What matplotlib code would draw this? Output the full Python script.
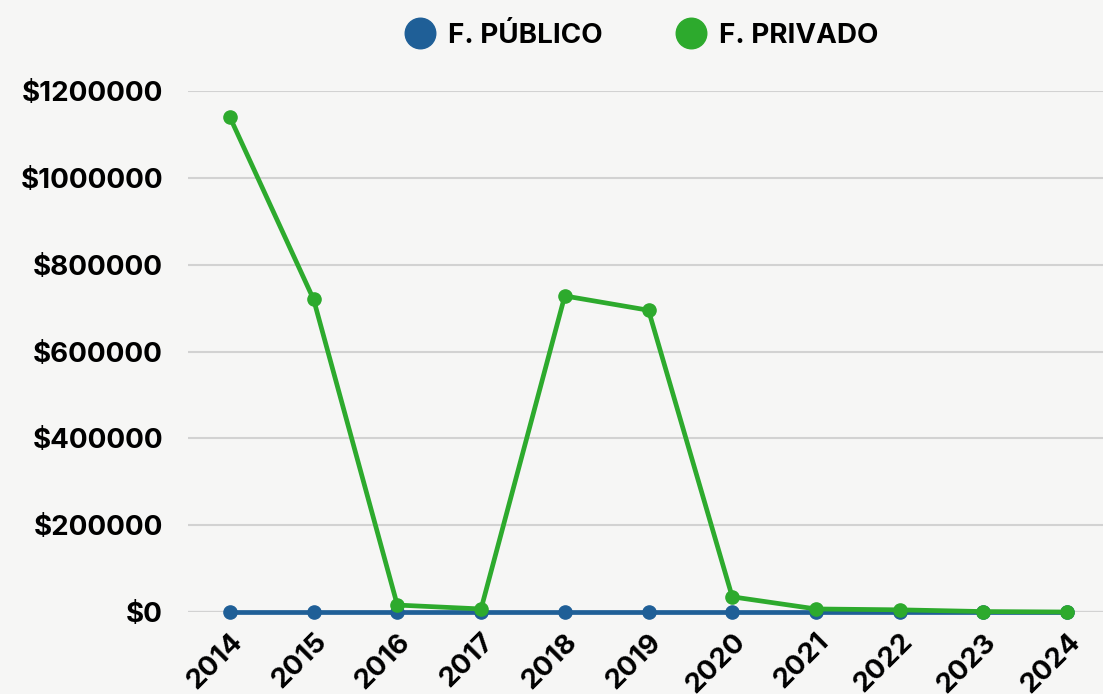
import matplotlib
matplotlib.use("Agg")
import matplotlib.pyplot as plt
from matplotlib.ticker import FuncFormatter
from matplotlib.lines import Line2D

years = [2014, 2015, 2016, 2017, 2018, 2019, 2020, 2021, 2022, 2023, 2024]
publico = [0, 0, 0, 0, 0, 0, 0, 0, 0, 0, 0]
privado = [1140000, 720000, 16000, 7000, 728000, 695000, 35000, 7000, 5000, 1000, 0]
y_ticks = [0, 200000, 400000, 600000, 800000, 1000000, 1200000]

blue = "#1f5f97"
green = "#2daa2d"
bg = "#f6f6f5"

plt.rcParams['font.family'] = ['Inter', 'DejaVu Sans']

fig = plt.figure(figsize=(11.03, 6.94), dpi=100, facecolor=bg)
ax = fig.add_axes([188/1103, 82/694, 921/1103, 521/694])
ax.set_facecolor(bg)

ax.plot(years, publico, color=blue, lw=3.4, marker='o', ms=9.5, clip_on=False, zorder=3)
ax.plot(years, privado, color=green, lw=3.4, marker='o', ms=9.5, clip_on=False, zorder=4)

ax.set_xlim(2013.5, 2024.5)
ax.set_ylim(0, 1200000)
ax.set_yticks(y_ticks)
ax.yaxis.set_major_formatter(FuncFormatter(lambda v, p: "$%d" % v))
ax.set_xticks(years)
ax.set_xticklabels([str(y) for y in years], rotation=45, ha='right',
                   rotation_mode='anchor', fontsize=20, fontweight='bold')
for lab in ax.get_yticklabels():
    lab.set_fontsize(20)
    lab.set_fontweight('bold')
ax.tick_params(axis='both', length=0, colors='black')
ax.tick_params(axis='y', pad=18)
ax.tick_params(axis='x', pad=12)

ax.grid(axis='y', color='#d2d2d2', lw=1.5)
ax.axhline(0, color='#b0b0b0', lw=1.5, zorder=1)
for s in ax.spines.values():
    s.set_visible(False)

handles = [Line2D([], [], ls='none', marker='o', ms=22, color=blue),
           Line2D([], [], ls='none', marker='o', ms=22, color=green)]
leg = fig.legend(handles, ['F. PÚBLICO', 'F. PRIVADO'], loc='center',
                 bbox_to_anchor=(641/1103, 1 - 36/694), ncol=2, frameon=False,
                 prop={'size': 20, 'weight': 'bold'}, handletextpad=0.4,
                 columnspacing=2.6, handlelength=1.2)

fig.savefig("out.png", dpi=100, facecolor=bg)
